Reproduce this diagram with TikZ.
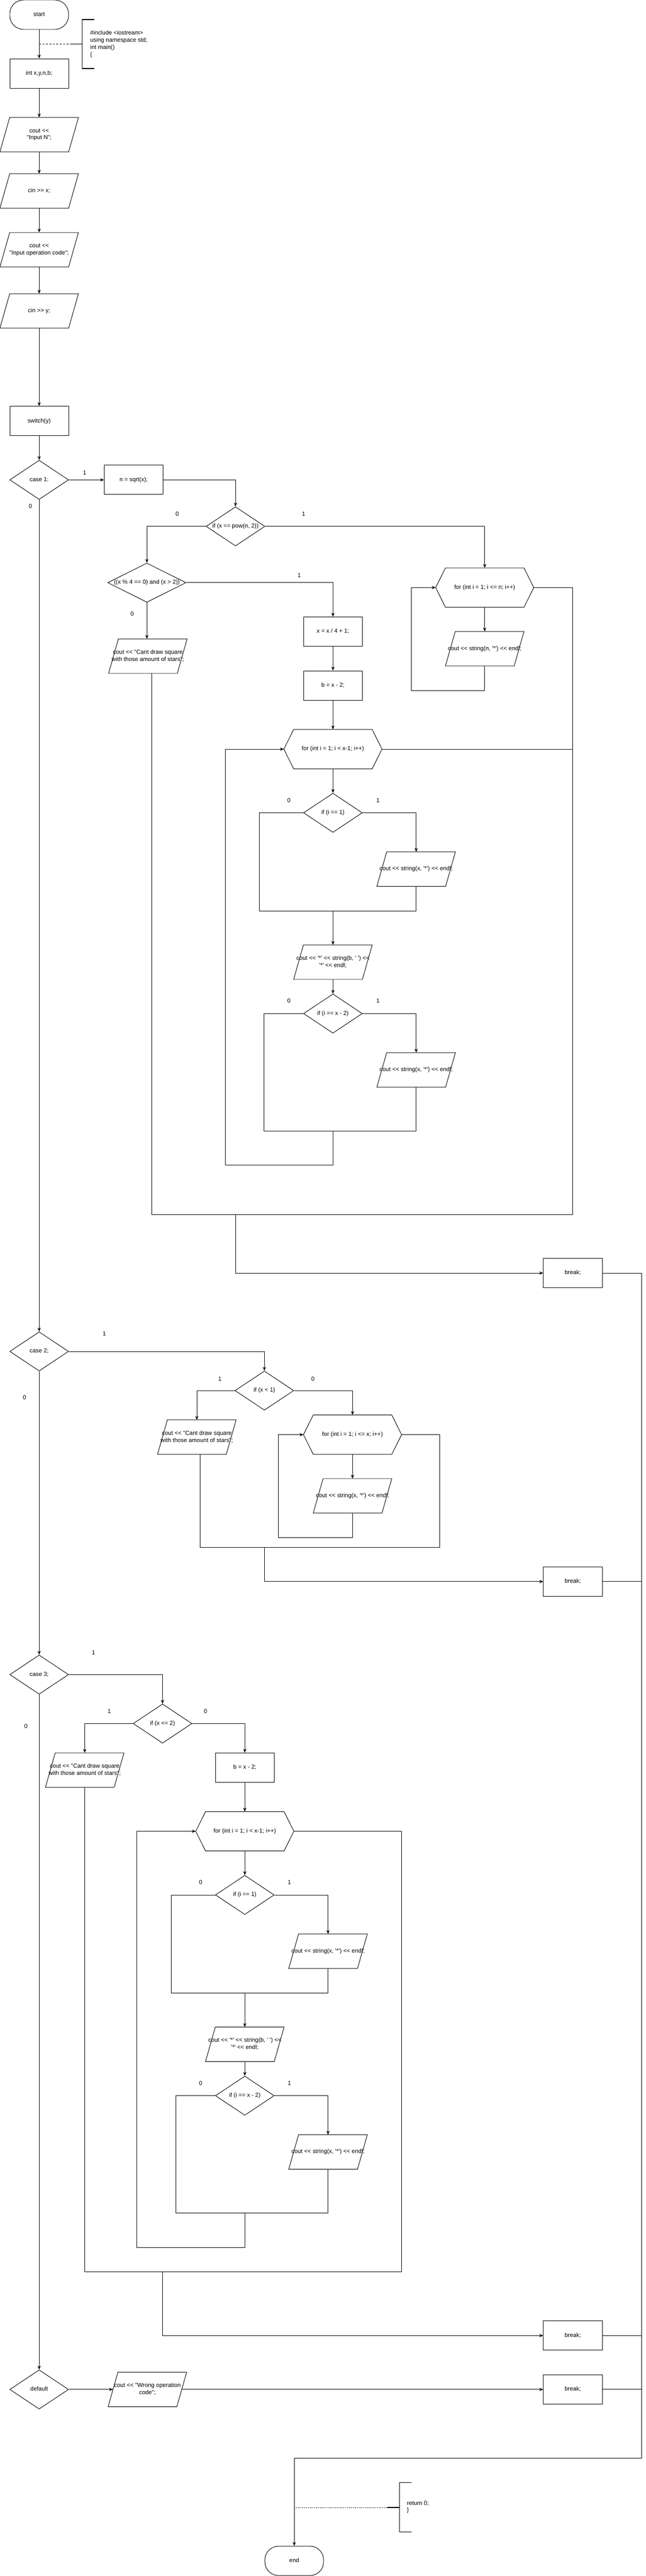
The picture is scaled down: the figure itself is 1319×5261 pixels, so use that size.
\documentclass[tikz,border=0pt]{standalone}
\usepackage{fontspec}
\setmainfont{Liberation Sans}
\newfontfamily\code{Liberation Sans}
\usetikzlibrary{arrows.meta,shapes.geometric}

\newcommand\tx[1]{\makebox[0pt][c]{\begin{tabular}{@{}c@{}}#1\end{tabular}}}
\newcommand\iodraw[1]{\draw[shp] ([xshift=20pt]#1.north west) -- (#1.north east) -- ([xshift=-20pt]#1.south east) -- (#1.south west) -- cycle;}
\newcommand\hexdraw[1]{\draw[shp] ([xshift=20pt]#1.north west) -- ([xshift=-20pt]#1.north east) -- (#1.east) -- ([xshift=-20pt]#1.south east) -- ([xshift=20pt]#1.south west) -- (#1.west) -- cycle;}

\tikzset{
  base/.style={font=\code\fontsize{12pt}{14.4pt}\selectfont, inner sep=0pt},
  proc/.style={base, rectangle, draw, line width=1pt, minimum width=120pt, minimum height=60pt},
  term/.style={base, rectangle, rounded corners=28pt, draw, line width=1pt, minimum width=120pt, minimum height=60pt},
  dec/.style={base, diamond, draw, line width=1pt, minimum width=120pt, minimum height=80pt},
  io/.style={base, rectangle, minimum width=160pt, minimum height=70pt},
  hex/.style={base, rectangle, minimum width=200pt, minimum height=80pt},
  shp/.style={line width=1pt},
  ln/.style={line width=1pt},
  arr/.style={line width=1pt, -{Stealth[length=8pt,width=6.5pt]}},
  lbl/.style={base},
  brk/.style={line width=1.6pt},
}

\begin{document}
\begin{tikzpicture}[x=1pt,y=-1pt]
\useasboundingbox (0,0) rectangle (1319,5261);

% ---------- nodes ----------
\node[term] (start) at (80,30) {\tx{start}};
\node[proc] (intv) at (80,150) {\tx{int x,y,n,b;}};
\node[io] (inN) at (80,275) {\tx{cout <<\\"Input N";}};
\node[io] (cinx) at (80,390) {\tx{cin >> x;}};
\node[io] (inop) at (80,510) {\tx{cout <<\\"Input operation code";}};
\node[io] (ciny) at (80,635) {\tx{cin >> y;}};
\node[proc] (sw) at (80,860) {\tx{switch(y)}};
\node[dec] (c1) at (80,980) {\tx{case 1:}};
\node[proc] (sq) at (273,980) {\tx{n = sqrt(x);}};
\node[dec] (pw) at (481,1075) {\tx{if (x == pow(n, 2))}};
\node[hex] (fn) at (990,1200) {\tx{for (int i = 1; i <= n; i++)}};
\node[io] (on) at (990,1325) {\tx{cout << string(n, '*') << endl;}};
\node[dec, minimum width=160pt] (m4) at (300,1190) {\tx{((x \% 4 == 0) and (x > 2))}};
\node[io] (ct1) at (302,1340) {\tx{cout << "Cant draw square\\with those amount of stars";}};
\node[proc] (x4) at (680,1290) {\tx{x = x / 4 + 1;}};
\node[proc] (b1) at (680,1400) {\tx{b = x - 2;}};
\node[hex] (fx) at (680,1530) {\tx{for (int i = 1; i < x-1; i++)}};
\node[dec] (i1) at (680,1660) {\tx{if (i == 1)}};
\node[io] (ox1) at (850,1775) {\tx{cout << string(x, '*') << endl;}};
\node[io] (om1) at (680,1965) {\tx{cout << '*' << string(b, ' ') <<\\'*' << endl;}};
\node[dec] (i2) at (680,2070) {\tx{if (i == x - 2)}};
\node[io] (ox2) at (850,2185) {\tx{cout << string(x, '*') << endl;}};
\node[proc] (bk1) at (1170,2600) {\tx{break;}};

\node[dec] (c2) at (80,2760) {\tx{case 2;}};
\node[dec] (ix1) at (540,2840) {\tx{if (x < 1)}};
\node[io] (ct2) at (402,2935) {\tx{cout << "Cant draw square\\with those amount of stars";}};
\node[hex] (fx2) at (720,2930) {\tx{for (int i = 1; i <= x; i++)}};
\node[io] (ox3) at (720,3055) {\tx{cout << string(x, '*') << endl;}};
\node[proc] (bk2) at (1170,3230) {\tx{break;}};

\node[dec] (c3) at (80,3420) {\tx{case 3;}};
\node[dec] (ix2) at (332,3520) {\tx{if (x <= 2)}};
\node[io] (ct3) at (173,3615) {\tx{cout << "Cant draw square\\with those amount of stars";}};
\node[proc] (b3) at (500,3610) {\tx{b = x - 2;}};
\node[hex] (fx3) at (500,3740) {\tx{for (int i = 1; i < x-1; i++)}};
\node[dec] (i3) at (500,3870) {\tx{if (i == 1)}};
\node[io] (ox4) at (670,3985) {\tx{cout << string(x, '*') << endl;}};
\node[io] (om3) at (500,4175) {\tx{cout << '*' << string(b, ' ') <<\\'*' << endl;}};
\node[dec] (i4) at (500,4280) {\tx{if (i == x - 2)}};
\node[io] (ox5) at (670,4395) {\tx{cout << string(x, '*') << endl;}};
\node[proc] (bk3) at (1170,4770) {\tx{break;}};

\node[dec] (df) at (80,4880) {\tx{default}};
\node[io] (wr) at (301,4880) {\tx{cout << "Wrong operation\\code";}};
\node[proc] (bk4) at (1170,4880) {\tx{break;}};
\node[term] (en) at (601,5230) {\tx{end}};

% ---------- shapes drawn around io / hex nodes ----------
\iodraw{inN}\iodraw{cinx}\iodraw{inop}\iodraw{ciny}
\iodraw{on}\iodraw{ct1}\iodraw{ox1}\iodraw{om1}\iodraw{ox2}
\iodraw{ct2}\iodraw{ox3}
\iodraw{ct3}\iodraw{ox4}\iodraw{om3}\iodraw{ox5}
\iodraw{wr}
\hexdraw{fn}\hexdraw{fx}\hexdraw{fx2}\hexdraw{fx3}

% ---------- coordinates ----------
\coordinate (R1) at (1170,2480);
\coordinate (R2) at (898,3160);
\coordinate (R3) at (820,4640);
\coordinate (RR) at (1310,5021);
\coordinate (ct1b) at ([xshift=8pt]ct1.south);
\coordinate (ct2b) at ([xshift=7pt]ct2.south);
\coordinate (j1) at (680,1861);
\coordinate (j2) at (680,2310);
\coordinate (j3) at (500,4070);
\coordinate (j4) at (500,4520);

% ---------- main spine ----------
\draw[arr] (start) -- (intv);
\draw[arr] (intv) -- (inN);
\draw[arr] (inN) -- (cinx);
\draw[arr] (cinx) -- (inop);
\draw[arr] (inop) -- (ciny);
\draw[arr] (ciny) -- (sw);
\draw[arr] (sw) -- (c1);
\draw[arr] (c1) -- (c2);
\draw[arr] (c2) -- (c3);
\draw[arr] (c3) -- (df);

% ---------- case 1 ----------
\draw[arr] (c1) -- (sq);
\draw[arr] (sq) -| (pw);
\draw[arr] (pw) -| (m4);
\draw[arr] (pw) -| (fn);
\draw[arr] (fn) -- (on);
\draw[arr] (on.south) -- ++(0,50) -| ([xshift=-50pt]fn.west) -- (fn.west);
\draw[ln] (fn.east) -| (R1) -- (ct1b |- R1) -- (ct1b);
\draw[ln] (fx.east) -- (fx.east -| R1);
\draw[arr] (pw |- R1) |- (bk1);
\draw[arr] (m4) -| (x4);
\draw[arr] (m4) -- (m4 |- ct1.north);
\draw[arr] (x4) -- (b1);
\draw[arr] (b1) -- (fx);
\draw[arr] (fx) -- (i1);
\draw[arr] (i1) -| (ox1);
\draw[ln] (i1.west) -- ++(-90,0) |- (j1) -| (ox1.south);
\draw[arr] (j1) -- (om1);
\draw[arr] (om1) -- (i2);
\draw[arr] (i2) -| (ox2);
\draw[ln] (i2.west) -- ++(-80,0) |- (j2) -| (ox2.south);
\draw[arr] (j2) -- ++(0,70) -| ([xshift=-120pt]fx.west) -- (fx.west);

% ---------- case 2 ----------
\draw[arr] (c2) -| (ix1);
\draw[arr] (ix1) -| (ct2);
\draw[arr] (ix1) -| (fx2);
\draw[arr] (fx2) -- (ox3);
\draw[arr] (ox3.south) -- ++(0,50) -| ([xshift=-51pt]fx2.west) -- (fx2.west);
\draw[ln] (fx2.east) -| (R2) -- (ct2b |- R2) -- (ct2b);
\draw[arr] (ix1 |- R2) |- (bk2);

% ---------- case 3 ----------
\draw[arr] (c3) -| (ix2);
\draw[arr] (ix2) -| (ct3);
\draw[arr] (ix2) -| (b3);
\draw[arr] (b3) -- (fx3);
\draw[arr] (fx3) -- (i3);
\draw[arr] (i3) -| (ox4);
\draw[ln] (i3.west) -- ++(-90,0) |- (j3) -| (ox4.south);
\draw[arr] (j3) -- (om3);
\draw[arr] (om3) -- (i4);
\draw[arr] (i4) -| (ox5);
\draw[ln] (i4.west) -- ++(-80,0) |- (j4) -| (ox5.south);
\draw[arr] (j4) -- ++(0,70) -| ([xshift=-120pt]fx3.west) -- (fx3.west);
\draw[ln] (fx3.east) -| (R3) -- (ct3.south |- R3) -- (ct3.south);
\draw[arr] (ix2 |- R3) |- (bk3);

% ---------- default ----------
\draw[arr] (df) -- ([xshift=10pt]wr.west);
\draw[arr] ([xshift=-10pt]wr.east) -- (bk4);

% ---------- breaks to end ----------
\draw[ln] (bk1.east) -| (RR);
\draw[ln] (bk2.east) -- (bk2.east -| RR);
\draw[ln] (bk3.east) -- (bk3.east -| RR);
\draw[ln] (bk4.east) -- (bk4.east -| RR);
\draw[arr] (RR) -| (en);

% ---------- branch labels ----------
\node[lbl] (l1a) at (173,965) {1};
\node[lbl] (l1b) at (62,1034) {0};
\node[lbl] (l2a) at (362,1050) {0};
\node[lbl] (l2b) at (620,1050) {1};
\node[lbl] (l3a) at (611,1175) {1};
\node[lbl] (l3b) at (270,1254) {0};
\node[lbl] (l4a) at (590,1635) {0};
\node[lbl] (l4b) at (772,1635) {1};
\node[lbl] (l5a) at (590,2044) {0};
\node[lbl] (l5b) at (772,2044) {1};
\node[lbl] (l6a) at (213,2724) {1};
\node[lbl] (l6b) at (50,2854) {0};
\node[lbl] (l7a) at (449,2816) {1};
\node[lbl] (l7b) at (639,2816) {0};
\node[lbl] (l8a) at (191,3375) {1};
\node[lbl] (l8b) at (53,3525) {0};
\node[lbl] (l9a) at (223,3495) {1};
\node[lbl] (l9b) at (420,3495) {0};
\node[lbl] (l10a) at (410,3844) {0};
\node[lbl] (l10b) at (591,3844) {1};
\node[lbl] (l11a) at (410,4255) {0};
\node[lbl] (l11b) at (591,4255) {1};

% ---------- annotations ----------
\coordinate (a1) at (80,90);
\coordinate (a1s) at (143,90);
\coordinate (a1v) at (168,90);
\draw[ln, dash pattern=on 4pt off 3pt] (a1) -- (a1s);
\draw[brk] (a1s) -- (a1v);
\draw[brk] (193,40) -- (168,40) -- (168,140) -- (193,140);
\node[base, anchor=west, align=left] (a1t) at (184,90) {\#include <iostream>\\using namespace std;\\int main()\\\{};

\coordinate (a2) at (601,5121);
\coordinate (a2s) at (791,5121);
\coordinate (a2v) at (816,5121);
\draw[ln, dash pattern=on 2pt off 2pt] (a2) -- (a2s);
\draw[brk] (a2s) -- (a2v);
\draw[brk] (841,5070) -- (816,5070) -- (816,5171) -- (841,5171);
\node[base, anchor=west, align=left] (a2t) at (831,5120) {return 0;\\\}};

\end{tikzpicture}
\end{document}
